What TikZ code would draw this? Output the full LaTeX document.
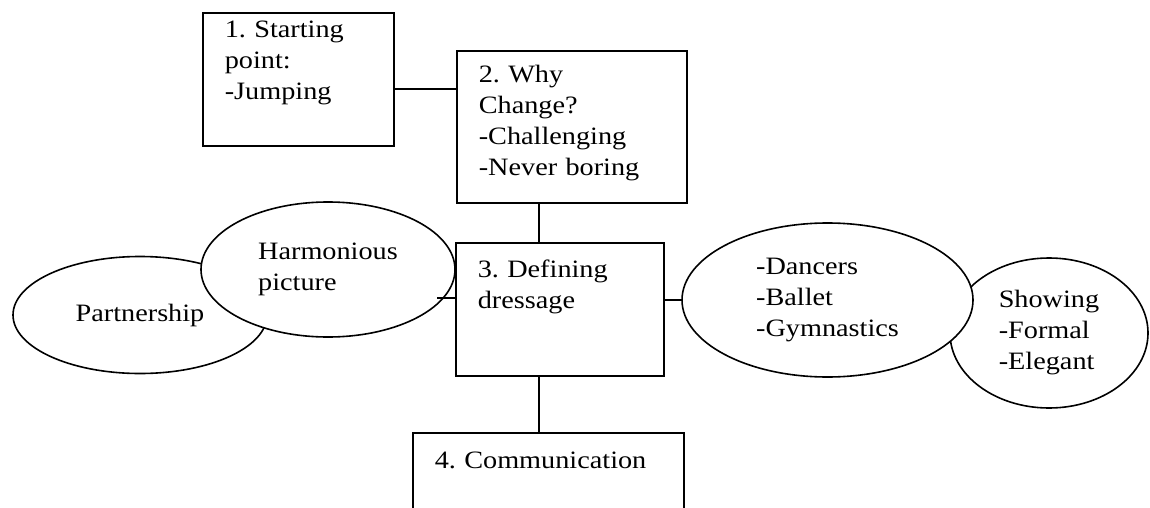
\documentclass[tikz,border=0pt]{standalone}
\usepackage{fontspec}
\setmainfont{Liberation Serif}[FakeStretch=1.13]
\usetikzlibrary{shapes.geometric,calc}
\frenchspacing
\tikzset{
    box/.style={
        rectangle,
        draw=black,
        line width=1.6pt,
        anchor=north west,
        align=left,
        inner xsep=22pt,
        inner ysep=0pt,
        font=\fontsize{25}{31}\selectfont
    },
    bubble/.style={
        ellipse,
        draw=black,
        fill=white,
        line width=1.6pt,
        inner sep=0pt,
        align=left,
        font=\fontsize{25}{31}\selectfont
    },
    link/.style={line width=1.6pt}
}

\begin{document}
\begin{tikzpicture}[x=1pt,y=-1pt]
\useasboundingbox (0,0) rectangle (1150,508);
\clip (0,0) rectangle (1150,507);

% Boxes
\node[box, text width=147pt, text height=25pt, text depth=108pt] (start) at (202,12) {1. Starting\\point:\\-Jumping};
\node[box, text width=186pt, text height=32pt, text depth=120pt] (why) at (456,50) {2. Why\\Change?\\-Challenging\\-Never boring};
\node[box, text width=164pt, text height=35pt, text depth=98pt] (define) at (455,242) {3. Defining\\dressage};
\node[box, text width=227pt, text height=36pt, text depth=44pt] (comm) at (412,432) {4. Communication};

% Bubbles (the lower ones first)
\node[bubble, minimum width=254pt, minimum height=117pt] (partner) at (140,315) {Partnership};
\node[bubble, minimum width=254pt, minimum height=135pt] (harmony) at (328,269.5) {Harmonious\\picture};
\node[bubble, minimum width=198pt, minimum height=150pt] (showing) at (1049,333) {Showing\\-Formal\\-Elegant};
\node[bubble, minimum width=291pt, minimum height=154pt] (dancers) at (827.5,300) {-Dancers\\-Ballet\\-Gymnastics};

% Links
\draw[link] ([yshift=-9.5pt]start.east) coordinate (sw) -- (sw -| why.west);
\draw[link] ([xshift=-33pt]why.south) coordinate (wd) -- (wd |- define.north);
\draw[link] ([xshift=-21pt]define.south) coordinate (dc) -- (dc |- comm.north);
\draw[link] ([yshift=9.5pt]define.east) coordinate (dd) -- (dd -| dancers.west);
\coordinate (stub) at (437,298);
\draw[link] (stub) -- (stub -| define.west);

\end{tikzpicture}
\end{document}
